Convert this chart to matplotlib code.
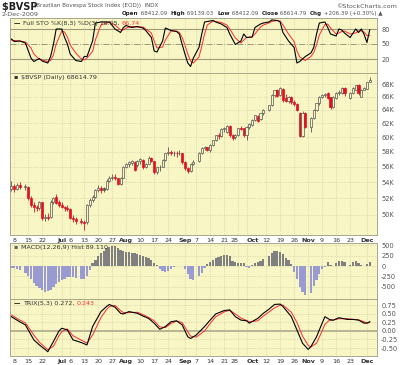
import numpy as np
import matplotlib
matplotlib.use("Agg")
from matplotlib import pyplot as plt

# trading days 5-Jun-2009 .. 2-Dec-2009, index 0..128 (None = exchange holiday)
n_days = 129
opens = [53.2, 53.5, 53.2, 53.6, None, 53.4, 53.4, 52.0, 51.2, 50.9,
         50.8, 51.5, 49.6, 49.8, 49.8, 51.6, 52.2, 51.5, 51.2, 50.9,
         50.8, 50.7, 49.6, 49.5, None, 49.3, 49.2, 49.2, 51.2, 51.8,
         52.2, 53.0, 53.3, 53.3, 53.1, 54.2, 54.6, 54.7, 54.5, 53.8,
         54.6, 56.0, 56.3, 56.5, 56.6, 56.2, 56.7, 56.9, 56.0, 56.4,
         57.2, 56.7, 55.3, 55.9, 56.0, 56.9, 57.8, 58.0, 57.8, 57.9,
         57.9, 57.8, 56.6, 55.8, 55.5, 56.4, None, 56.7, 57.9, 58.5,
         58.6, 58.3, 59.0, 59.6, 60.3, 60.2, 61.2, 60.8, 61.6, 60.3,
         60.0, 60.3, 61.3, 61.3, 60.3, 61.5, 61.8, 62.5, 63.1, 62.6,
         63.5, None, 64.0, 64.7, 66.3, 67.0, 66.3, 67.3, 65.8, 65.4,
         66.0, 65.2, 64.9, 63.5, 60.2, 63.6, None, 61.5, 62.8, 64.0,
         65.0, 66.0, 66.3, 66.6, 65.9, 64.4, 65.8, 66.6, 66.6, 67.4,
         None, 65.8, 66.6, 67.1, 67.8, 66.0, 67.1, 67.3, 68.41]
highs = [54.2, 53.8, 53.9, 54.0, None, 53.8, 53.5, 52.3, 51.6, 51.2,
         51.7, 51.6, 50.1, 50.2, 51.8, 52.2, 52.5, 51.8, 51.6, 51.1,
         51.2, 50.8, 50.0, 49.8, None, 49.6, 49.4, 51.3, 52.0, 52.4,
         53.1, 53.6, 53.5, 53.4, 54.4, 54.8, 55.0, 55.0, 54.6, 54.7,
         56.1, 56.5, 56.8, 56.9, 56.8, 56.9, 57.2, 57.0, 56.5, 57.4,
         57.3, 56.8, 56.0, 56.2, 57.0, 57.9, 58.6, 58.3, 58.1, 58.1,
         58.2, 57.9, 56.8, 56.0, 56.5, 56.9, None, 58.0, 58.6, 58.8,
         58.7, 59.1, 59.7, 60.4, 60.6, 61.3, 61.5, 61.8, 61.8, 60.5,
         60.5, 61.4, 61.6, 61.4, 61.6, 62.0, 62.6, 63.3, 63.3, 63.6,
         64.1, None, 64.8, 66.4, 67.1, 67.2, 67.6, 67.4, 66.5, 66.1,
         66.2, 65.5, 65.0, 63.7, 63.8, 63.7, None, 62.9, 64.1, 65.1,
         66.1, 66.5, 66.6, 66.8, 66.0, 66.1, 66.7, 67.0, 67.5, 67.6,
         None, 66.7, 67.5, 67.9, 68.0, 67.2, 67.6, 68.4, 69.14]
lows = [52.9, 52.8, 53.0, 53.1, None, 53.0, 51.8, 51.0, 50.3, 50.5,
        50.6, 49.4, 49.3, 49.4, 49.6, 51.3, 51.3, 51.0, 50.8, 50.5,
        50.5, 49.5, 49.2, 49.0, None, 48.9, 48.3, 49.0, 51.0, 51.5,
        52.0, 52.8, 52.7, 52.8, 53.0, 54.0, 54.3, 54.3, 53.6, 53.6,
        54.5, 55.8, 56.0, 56.2, 55.4, 56.0, 56.4, 55.7, 55.8, 56.3,
        56.6, 55.0, 55.1, 55.5, 55.9, 56.8, 57.6, 57.5, 57.4, 57.3,
        57.5, 56.4, 55.6, 55.2, 55.3, 56.2, None, 56.6, 57.7, 58.2,
        58.1, 58.0, 58.8, 59.5, 59.8, 60.0, 60.7, 60.6, 60.1, 59.6,
        59.8, 60.2, 61.0, 60.1, 59.6, 61.2, 61.6, 62.4, 62.2, 62.5,
        63.3, None, 63.8, 64.6, 66.0, 66.0, 66.2, 65.2, 65.2, 65.0,
        64.9, 64.6, 63.8, 60.1, 60.1, 61.3, None, 60.8, 62.6, 63.8,
        64.8, 65.8, 66.0, 65.6, 64.2, 64.3, 65.6, 66.3, 66.5, 66.1,
        None, 65.6, 66.4, 67.0, 66.3, 65.9, 67.0, 67.2, 68.41]
closes = [53.5, 53.2, 53.6, 53.4, None, 53.5, 52.0, 51.2, 50.9, 50.8,
          51.5, 49.6, 49.8, 49.7, 51.6, 52.0, 51.4, 51.2, 50.9, 50.8,
          50.7, 49.6, 49.5, 49.3, None, 49.2, 49.1, 51.2, 51.8, 52.2,
          53.0, 53.3, 53.0, 53.0, 54.2, 54.6, 54.7, 54.5, 53.8, 54.5,
          56.0, 56.3, 56.6, 56.7, 55.6, 56.7, 57.0, 55.9, 56.3, 57.2,
          56.8, 55.3, 55.9, 56.0, 56.9, 57.8, 58.0, 57.8, 57.9, 57.8,
          57.9, 56.6, 55.8, 55.5, 56.4, 56.6, None, 57.9, 58.5, 58.6,
          58.3, 59.0, 59.6, 60.3, 60.2, 61.2, 61.3, 61.6, 60.3, 59.9,
          60.3, 61.3, 61.2, 60.3, 61.5, 61.9, 62.5, 63.2, 62.4, 63.5,
          64.0, None, 64.7, 66.3, 67.0, 66.2, 67.4, 65.5, 65.4, 66.0,
          65.2, 64.9, 64.0, 60.2, 63.6, 61.5, None, 62.8, 64.0, 65.0,
          66.0, 66.3, 66.4, 65.8, 64.4, 66.0, 66.6, 66.7, 67.4, 66.6,
          None, 66.6, 67.4, 67.8, 66.6, 67.1, 67.4, 68.3, 68.61]

# Full STO %K(8,3) / %D(3)
sto_idx = [0, 1, 3, 5, 7, 8, 10, 11, 13, 14, 15, 16, 18, 19, 20, 21, 23, 25, 26, 27,
           29, 30, 32, 35, 37, 39, 40, 41, 43, 45, 47, 48, 50, 51, 52, 54, 55, 57, 59, 60,
           61, 62, 63, 64, 65, 67, 68, 69, 70, 72, 73, 75, 77, 78, 80, 82, 83, 84, 86, 87,
           89, 90, 92, 93, 95, 96, 97, 99, 101, 102, 103, 105, 107, 108, 109, 110, 112, 113, 114, 116,
           117, 118, 119, 121, 123, 124, 125, 126, 127, 128]
sto_k = [60, 55, 56, 52, 22, 15, 21, 16, 12, 25, 49, 80, 80, 63, 50, 30, 17, 15, 25, 25,
         56, 92, 94, 94, 80, 73, 83, 87, 83, 85, 82, 77, 63, 36, 34, 56, 82, 77, 75, 70,
         49, 30, 12, 5, 22, 43, 70, 94, 95, 97, 94, 90, 83, 70, 49, 56, 70, 63, 64, 83,
         90, 92, 94, 98, 97, 94, 73, 56, 43, 12, 15, 25, 32, 43, 70, 92, 94, 83, 70, 66,
         80, 78, 72, 63, 80, 73, 80, 69, 53, 78.05]
sto_d = [58, 57, 56, 54, 42, 30, 19, 18, 15, 17, 28, 50, 76, 74, 64, 48, 32, 20, 18, 22,
         35, 58, 88, 94, 88, 78, 78, 82, 85, 84, 84, 80, 72, 56, 42, 44, 58, 76, 76, 73,
         63, 48, 30, 16, 12, 24, 45, 70, 88, 96, 95, 93, 88, 80, 62, 52, 58, 63, 64, 70,
         84, 88, 92, 95, 97, 96, 88, 70, 55, 36, 24, 17, 25, 33, 48, 68, 89, 90, 82, 70,
         72, 75, 76, 70, 72, 76, 76, 74, 67, 66.74]

# MACD(12,26,9) histogram
macd_hist = [-40, -55, -70, -90, None, -170, -240, -320, -400, -470,
             -530, -580, -610, -600, -560, -500, -440, -390, -340, -300,
             -270, -260, -270, -290, None, -310, -320, -230, -90, 60,
             150, 230, 300, 360, 420, 460, 480, 470, 420, 380,
             360, 340, 330, 320, 300, 290, 270, 240, 210, 190,
             150, 80, 20, -60, -120, -140, -110, -60, -20, 0,
             10, -10, -80, -200, -300, -330, None, -250, -170, -40,
             40, 90, 140, 180, 210, 240, 260, 270, 250, 110,
             90, 80, 70, 60, -30, -50, 30, 60, 90, 130,
             170, None, 240, 320, 350, 360, 340, 280, 200, 150,
             50, -150, -300, -500, -620, -680, None, -640, -480, -330,
             -180, -60, -20, 100, 20, 10, 80, 130, 120, 90,
             None, 20, 90, 110, 60, 20, 10, 40, 89.11]

# TRIX(5,3) and signal
trix_idx = [0, 3, 5, 8, 10, 12, 13, 15, 17, 18, 20, 22, 25, 27, 29, 32, 34, 35, 37, 39,
            40, 42, 45, 47, 49, 51, 53, 55, 57, 59, 61, 63, 64, 66, 69, 71, 73, 76, 78, 80,
            82, 84, 85, 88, 90, 92, 94, 96, 97, 100, 102, 104, 106, 107, 109, 111, 112, 114, 115, 117,
            120, 122, 124, 126, 127, 128]
trix = [0.42, 0.27, 0.18, -0.26, -0.41, -0.54, -0.61, -0.31, 0.00, 0.08, 0.03, -0.26, -0.34, -0.41, 0.13, 0.57, 0.72, 0.78, 0.70, 0.52,
        0.50, 0.57, 0.52, 0.44, 0.37, 0.23, 0.05, 0.13, 0.27, 0.30, 0.18, -0.17, -0.22, -0.12, 0.13, 0.32, 0.50, 0.60, 0.62, 0.42,
        0.32, 0.30, 0.23, 0.37, 0.52, 0.64, 0.78, 0.79, 0.72, 0.42, 0.03, -0.36, -0.54, -0.46, -0.17, 0.23, 0.42, 0.32, 0.32, 0.39,
        0.34, 0.34, 0.32, 0.23, 0.23, 0.272]
trix_sig = [0.47, 0.32, 0.24, -0.12, -0.33, -0.48, -0.55, -0.45, -0.14, -0.02, 0.06, -0.14, -0.27, -0.36, -0.12, 0.40, 0.63, 0.72, 0.75, 0.60,
            0.54, 0.54, 0.55, 0.48, 0.40, 0.30, 0.12, 0.10, 0.22, 0.29, 0.25, -0.02, -0.15, -0.18, 0.00, 0.22, 0.42, 0.56, 0.61, 0.50,
            0.38, 0.31, 0.27, 0.30, 0.44, 0.56, 0.68, 0.76, 0.76, 0.55, 0.25, -0.15, -0.42, -0.47, -0.36, 0.00, 0.20, 0.34, 0.32, 0.36,
            0.36, 0.34, 0.33, 0.27, 0.24, 0.243]

# date axis labels (trading-day index, text)
tick_idx = [1, 6, 11, 18, 21, 26, 31, 36, 41, 46, 51, 56, 62, 66, 71, 76, 81, 84, 91, 96, 101, 106, 111, 116, 121, 127]
tick_lab = ["8", "15", "22", "Jul", "6", "13", "20", "27", "Aug", "10", "17", "24", "Sep", "7", "14", "21", "28", "Oct",
            "12", "19", "26", "Nov", "9", "16", "23", "Dec"]
months = {"Jul", "Aug", "Sep", "Oct", "Nov", "Dec"}

BG = "#f8f6c4"
GRID = "#c9c7a0"
FRAME = "#a8a68c"
LBL = "#555555"
RED = "#ff3030"

o = np.array(opens, dtype=float) * 1000
h = np.array(highs, dtype=float) * 1000
l = np.array(lows, dtype=float) * 1000
c = np.array(closes, dtype=float) * 1000
x = np.arange(n_days)
XL = (-0.5, 130.6)

fig = plt.figure(figsize=(4.0, 3.65), dpi=100)
fig.patch.set_facecolor("white")
renderer = fig.canvas.get_renderer()


def chain(x0, y0, parts, target, size=4.6, max_px=None):
    # draw text pieces one after another on one line; target is fig or an axes
    tr = target.transAxes if target is not fig else fig.transFigure
    span = target.bbox.width
    texts, xx = [], x0
    for txt, col, bold in parts:
        t = fig.text(xx, y0, txt, fontsize=size, color=col, va="top",
                     fontweight="bold" if bold else "normal", transform=tr)
        xx += t.get_window_extent(renderer).width / span
        texts.append(t)
    if max_px is not None and (xx - x0) * span > max_px:
        for t in texts:
            t.remove()
        return chain(x0, y0, parts, target, size * max_px / ((xx - x0) * span))
    return xx


def panel(rect):
    ax = fig.add_axes(rect)
    ax.set_facecolor(BG)
    ax.set_xlim(*XL)
    for s in ax.spines.values():
        s.set_color(FRAME)
        s.set_linewidth(0.7)
    ax.yaxis.tick_right()
    ax.tick_params(axis="y", length=0, pad=3, labelsize=4.8, labelcolor=LBL)
    ax.tick_params(axis="x", length=0, pad=2, labelsize=4.6, labelcolor="#333333")
    ax.set_xticks(tick_idx)
    ax.set_xticklabels([])
    for t in tick_idx:
        ax.axvline(t, color=GRID, lw=0.5, ls=(0, (1, 1.5)), zorder=0)
    return ax


def date_labels(ax):
    ax.set_xticklabels(tick_lab)
    for t in ax.get_xticklabels():
        if t.get_text() in months:
            t.set_fontweight("bold")
        if t.get_text() == "28":
            t.set_horizontalalignment("right")
        if t.get_text() == "Oct":
            t.set_horizontalalignment("left")


L, W = 10 / 400, 367 / 400
ax_sto = panel([L, 1 - 73 / 365, W, 55 / 365])
ax_px = panel([L, 1 - 235 / 365, W, 162 / 365])
ax_macd = panel([L, 1 - 299 / 365, W, 56 / 365])
ax_trix = panel([L, 1 - 356 / 365, W, 57 / 365])

# --- STO panel
ax_sto.set_ylim(-8, 102)
ax_sto.set_yticks([20, 50, 80])
for lv in (20, 80):
    ax_sto.axhline(lv, color="#9c9a78", lw=0.8, zorder=1)
ax_sto.axhline(50, color="#9c9a78", lw=0.7, ls="-.", zorder=1)
ax_sto.plot(sto_idx, sto_d, color="#ff2a2a", lw=0.7, zorder=3)
ax_sto.plot(sto_idx, sto_k, color="black", lw=0.8, zorder=4)

# --- price panel (log scale)
ax_px.set_yscale("log")
ax_px.set_ylim(47700, 69800)
pt = np.arange(50000, 68001, 2000)
ax_px.set_yticks(pt)
ax_px.set_yticklabels([f"{int(v / 1000)}K" for v in pt])
ax_px.minorticks_off()
ax_px.tick_params(axis="y", which="both", length=0)
for v in pt:
    ax_px.axhline(v, color=GRID, lw=0.5, ls=(0, (1, 1.5)), zorder=0)

prev = np.concatenate([[np.nan], c[:-1]])
# carry previous close across holidays
for i in range(1, n_days):
    if np.isnan(prev[i]):
        prev[i] = prev[i - 1]
for i in range(n_days):
    if np.isnan(c[i]):
        continue
    down = (not np.isnan(prev[i])) and c[i] < prev[i]
    col = "#e0101e" if down else "#555555"
    ax_px.vlines(x[i], l[i], h[i], color=col, lw=0.6, zorder=2)
    lo, hi = min(o[i], c[i]), max(o[i], c[i])
    face = col if c[i] < o[i] else BG
    ax_px.bar(x[i], hi - lo, bottom=lo, width=0.75, color=face, edgecolor=col, lw=0.5, zorder=3)
date_labels(ax_px)

# --- MACD histogram
ax_macd.set_ylim(-786, 548)
ax_macd.set_yticks([-500, -250, 0, 250, 500])
ax_macd.set_yticklabels(["-500", "-250", "0", "250", "500"])
for v in (-500, -250, 0, 250, 500):
    ax_macd.axhline(v, color=GRID, lw=0.5, ls=(0, (1, 1.5)), zorder=0)
mh = np.array(macd_hist, dtype=float)
mcol = np.where(mh >= 0, "#808080", "#9a9ad2")
ax_macd.bar(x, np.nan_to_num(mh), width=0.8, color=mcol, edgecolor="none", zorder=2)

# --- TRIX panel
ax_trix.set_ylim(-0.735, 0.94)
tt = [-0.5, -0.25, 0.0, 0.25, 0.5, 0.75]
ax_trix.set_yticks(tt)
ax_trix.set_yticklabels([f"{v:.2f}" for v in tt])
for v in tt:
    ax_trix.axhline(v, color=GRID, lw=0.5, ls=(0, (1, 1.5)), zorder=0)
ax_trix.axhline(0, color="#b3b08e", lw=1.3, zorder=1)
ax_trix.plot(trix_idx, trix_sig, color="#ff2a2a", lw=0.7, zorder=3)
ax_trix.plot(trix_idx, trix, color="black", lw=0.8, zorder=4)
date_labels(ax_trix)

# --- panel legends
chain(0.012, 0.95, [("\u2014 ", "black", True), ("Full STO %K(8,3) %D(3) 78.05, ", "#333333", False),
                    ("66.74", RED, False)], ax_sto)
chain(0.012, 0.985, [("\u25aa ", "#333333", False), ("$BVSP (Daily) 68614.79", "#333333", False)], ax_px)
chain(0.012, 0.96, [("\u25aa ", "#666666", False), ("MACD(12,26,9) Hist 89.110", "#333333", False)], ax_macd)
chain(0.012, 0.96, [("\u2014 ", "black", True), ("TRIX(5,3) 0.272, ", "#333333", False),
                    ("0.243", RED, False)], ax_trix)

# --- header
chain(2 / 400, 1 - 2 / 365, [("$BVSP ", "#222222", True)], fig, size=7.0)
chain(34 / 400, 1 - 3.5 / 365, [("(Brazilian Bovespa Stock Index (EOD))  INDX", "#555555", False)], fig,
      size=4.6, max_px=125)
fig.text(397 / 400, 1 - 3.5 / 365, "\u00a9StockCharts.com", fontsize=4.6, va="top", ha="right", color="#555555")
chain(2 / 400, 1 - 11.5 / 365, [("2-Dec-2009", "#555555", False)], fig)
hdr = [("Open", "#222222", True), (" 68412.09  ", "#555555", False),
       ("High", "#222222", True), (" 69139.03  ", "#555555", False),
       ("Low", "#222222", True), (" 68412.09  ", "#555555", False),
       ("Close", "#222222", True), (" 68614.79  ", "#555555", False),
       ("Chg", "#222222", True), (" +206.39 (+0.30%) \u25b2", "#555555", False)]
chain(122 / 400, 1 - 11 / 365, hdr, fig, size=4.6, max_px=262)

fig.savefig("out.png", dpi=100, facecolor="white")
